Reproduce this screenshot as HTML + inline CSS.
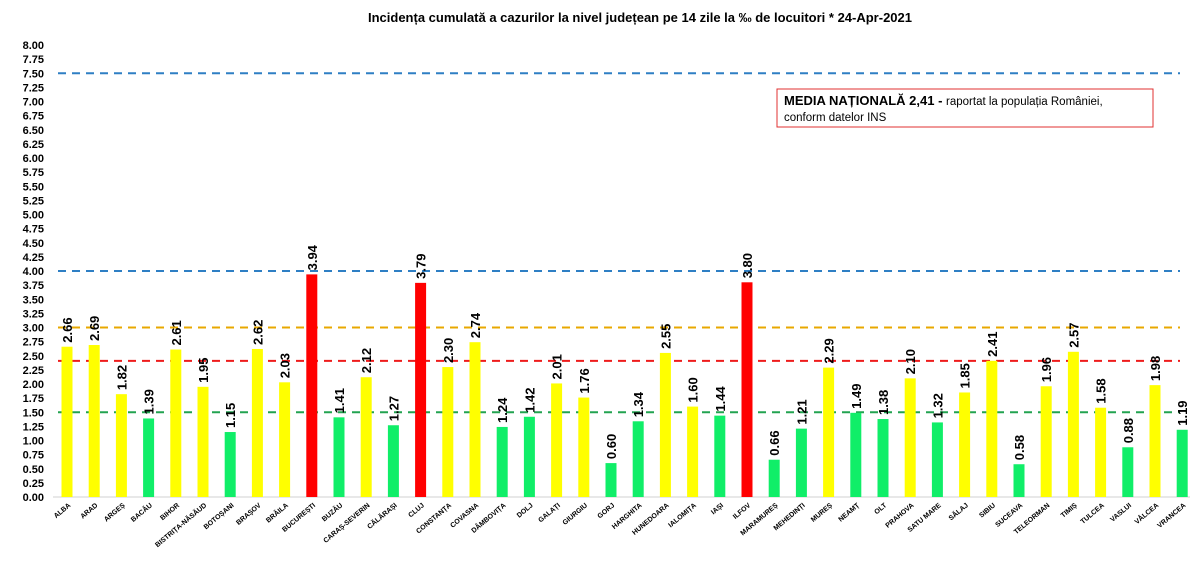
<!DOCTYPE html>
<html><head><meta charset="utf-8"><style>
body{margin:0;background:#fff;font-family:"Liberation Sans",sans-serif}
svg text{font-family:"Liberation Sans",sans-serif}
</style></head><body>
<svg width="1195" height="561" viewBox="0 0 1195 561" xmlns="http://www.w3.org/2000/svg">
<text x="640" y="22" text-anchor="middle" font-size="13" font-weight="bold">Incidența cumulată a cazurilor la nivel județean pe 14 zile la ‰ de locuitori *   24-Apr-2021</text>
<g id="yaxis"></g>
<g id="lines"></g>
<g id="bars"></g>
<g id="xlabels"></g>
<g>
<rect x="777" y="89" width="376" height="38" fill="#fff" stroke="#e03030" stroke-width="1"/>
<text x="784" y="105" font-size="13"><tspan font-weight="bold">MEDIA NAȚIONALĂ  2,41 - </tspan><tspan font-size="11.5">raportat la populația României,</tspan></text>
<text x="784" y="121" font-size="11.5">conform datelor INS</text>
</g>
</svg>
<script>
const categories=["ALBA","ARAD","ARGEȘ","BACĂU","BIHOR","BISTRIȚA-NĂSĂUD","BOTOȘANI","BRAȘOV","BRĂILA","BUCUREȘTI","BUZĂU","CARAȘ-SEVERIN","CĂLĂRAȘI","CLUJ","CONSTANȚA","COVASNA","DÂMBOVIȚA","DOLJ","GALAȚI","GIURGIU","GORJ","HARGHITA","HUNEDOARA","IALOMIȚA","IAȘI","ILFOV","MARAMUREȘ","MEHEDINȚI","MUREȘ","NEAMȚ","OLT","PRAHOVA","SATU MARE","SĂLAJ","SIBIU","SUCEAVA","TELEORMAN","TIMIȘ","TULCEA","VASLUI","VÂLCEA","VRANCEA"];
const values=[2.66,2.69,1.82,1.39,2.61,1.95,1.15,2.62,2.03,3.94,1.41,2.12,1.27,3.79,2.30,2.74,1.24,1.42,2.01,1.76,0.60,1.34,2.55,1.60,1.44,3.80,0.66,1.21,2.29,1.49,1.38,2.10,1.32,1.85,2.41,0.58,1.96,2.57,1.58,0.88,1.98,1.19];
const thresholds=[7.5,4.0,3.0,2.41,1.5];
const thresholdColors=["#2e7fc4","#2e7fc4","#e8a800","#ee1c1c","#22a350"];
const yTicks=[];for(let v=0;v<=8.0001;v+=0.25)yTicks.push(v);
const NS="http://www.w3.org/2000/svg";
const y0=497,pxPer=56.5,x0=53.4,slot=27.2,bw=11;
const Y=v=>y0-v*pxPer, X=i=>x0+slot*(i+0.5);
function mk(t,a,p){const e=document.createElementNS(NS,t);for(const k in a)e.setAttribute(k,a[k]);p.appendChild(e);return e;}
const ya=document.getElementById('yaxis');
yTicks.forEach(v=>{const t=mk('text',{x:44,y:Y(v)+4,'text-anchor':'end','font-size':11,'font-weight':'bold'},ya);t.textContent=v.toFixed(2);

});
const base=mk('line',{x1:53,x2:1190,y1:y0,y2:y0,stroke:'#d0d0d0'},ya);
const bg=document.getElementById('bars');
values.forEach((v,i)=>{const c=v>=3?'#ff0000':(v>=1.5?'#ffff00':'#10ee68');
const r=mk('rect',{x:X(i)-bw/2,y:Y(v),width:bw,height:v*pxPer,fill:c},bg);


const tx=X(i)+5,ty=Y(v)-4;
const t=mk('text',{x:tx,y:ty,transform:`rotate(-90 ${tx} ${ty})`,'font-size':13,'font-weight':'bold'},bg);t.textContent=v.toFixed(2);

});
const lg=document.getElementById('lines');
thresholds.forEach((v,i)=>{const l=mk('line',{x1:58,x2:1180,y1:Y(v),y2:Y(v),stroke:thresholdColors[i],'stroke-width':2,'stroke-dasharray':'8,6'},lg);

});
const xl=document.getElementById('xlabels');
categories.forEach((c,i)=>{const tx=X(i)+4,ty=506;
const t=mk('text',{x:tx,y:ty,transform:`rotate(-40 ${tx} ${ty})`,'text-anchor':'end','font-size':7,'font-weight':'bold'},xl);t.textContent=c;

});
</script>
</body></html>
